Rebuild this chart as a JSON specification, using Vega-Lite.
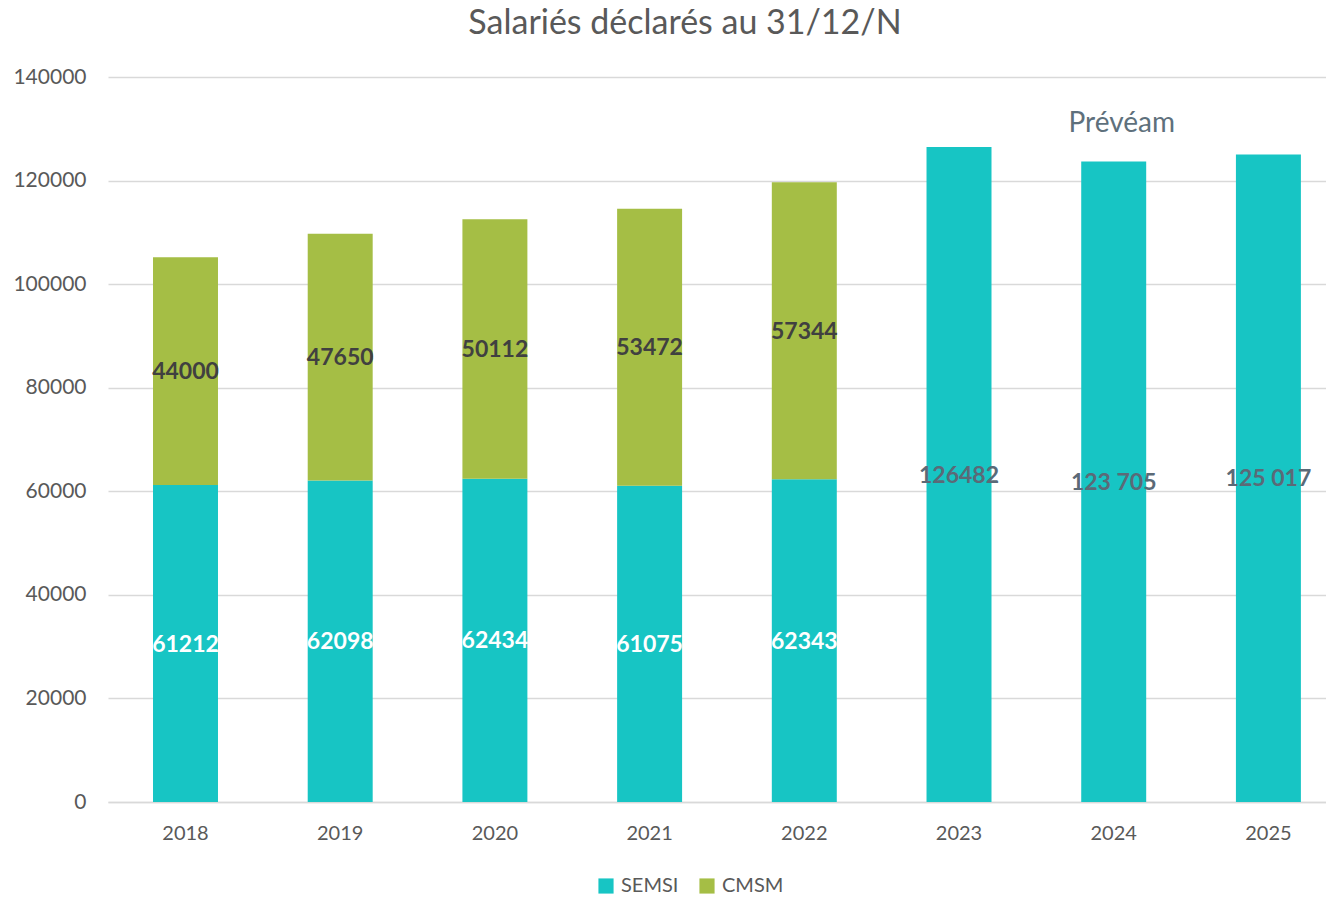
{
  "$schema": "https://vega.github.io/schema/vega-lite/v6.json",
  "width": 1218,
  "height": 725,
  "autosize": {"type": "none"},
  "padding": {"left": 108, "top": 77, "right": 0, "bottom": 96},
  "background": "white",
  "title": {
    "text": "Salariés déclarés au 31/12/N",
    "font": "Lato",
    "fontSize": 34,
    "fontWeight": "normal",
    "color": "#595959",
    "baseline": "alphabetic",
    "anchor": "middle",
    "offset": -2,
    "dx": -32
  },
  "config": {
    "view": {"stroke": null},
    "font": "Lato"
  },
  "datasets": {
    "main": [
      {"year": "2018", "series": "SEMSI", "value": 61212, "label": "61212"},
      {"year": "2018", "series": "CMSM", "value": 44000, "label": "44000"},
      {"year": "2019", "series": "SEMSI", "value": 62098, "label": "62098"},
      {"year": "2019", "series": "CMSM", "value": 47650, "label": "47650"},
      {"year": "2020", "series": "SEMSI", "value": 62434, "label": "62434"},
      {"year": "2020", "series": "CMSM", "value": 50112, "label": "50112"},
      {"year": "2021", "series": "SEMSI", "value": 61075, "label": "61075"},
      {"year": "2021", "series": "CMSM", "value": 53472, "label": "53472"},
      {"year": "2022", "series": "SEMSI", "value": 62343, "label": "62343"},
      {"year": "2022", "series": "CMSM", "value": 57344, "label": "57344"},
      {"year": "2023", "series": "SEMSI", "value": 126482, "label": "126482"},
      {"year": "2024", "series": "SEMSI", "value": 123705, "label": "123 705"},
      {"year": "2025", "series": "SEMSI", "value": 125017, "label": "125 017"}
    ],
    "note": [
      {"year": "2024", "value": 130900, "label": "Prévéam"}
    ]
  },
  "layer": [
    {
      "data": {"name": "main"},
      "transform": [
        {"stack": "value", "groupby": ["year"], "sort": [{"field": "series", "order": "descending"}], "as": ["v0", "v1"]}
      ],
      "mark": {"type": "bar"},
      "encoding": {
        "x": {
          "field": "year", "type": "ordinal",
          "scale": {"paddingInner": 0.58, "paddingOuter": 0.2266, "align": 0.642},
          "axis": {
            "title": null, "labelAngle": 0, "labelFontSize": 20, "labelColor": "#595959",
            "labelFont": "Lato", "ticks": false, "domainColor": "#D9D9D9", "domainWidth": 1.5,
            "labelPadding": 21
          }
        },
        "y": {
          "field": "v1", "type": "quantitative",
          "scale": {"domain": [0, 140000], "nice": false},
          "axis": {
            "title": null, "values": [0, 20000, 40000, 60000, 80000, 100000, 120000, 140000],
            "format": "d", "labelFontSize": 21, "labelColor": "#595959", "labelFont": "Lato",
            "ticks": false, "domain": false, "gridColor": "#D9D9D9", "gridWidth": 1.5,
            "labelPadding": 22
          }
        },
        "y2": {"field": "v0"},
        "color": {
          "field": "series", "type": "nominal",
          "scale": {"domain": ["SEMSI", "CMSM"], "range": ["#17C5C4", "#A5BE45"]},
          "legend": {
            "title": null, "orient": "none", "legendX": 488, "legendY": 799,
            "direction": "horizontal", "symbolType": "square", "symbolSize": 230,
            "symbolStrokeWidth": 0, "labelFontSize": 20, "labelColor": "#595959",
            "labelFont": "Lato", "columnPadding": 18, "labelOffset": 5
          }
        }
      }
    },
    {
      "data": {"name": "main"},
      "transform": [
        {"stack": "value", "groupby": ["year"], "sort": [{"field": "series", "order": "descending"}], "as": ["v0", "v1"]},
        {"calculate": "(datum.v0 + datum.v1) / 2", "as": "mid"}
      ],
      "mark": {"type": "text", "font": "Lato", "fontWeight": "bold", "fontSize": 23, "baseline": "middle", "align": "center", "dy": 1},
      "encoding": {
        "x": {"field": "year", "type": "ordinal"},
        "y": {"field": "mid", "type": "quantitative"},
        "text": {"field": "label"},
        "color": {
          "condition": [
            {"test": "toNumber(datum.year) >= 2023", "value": "#5B6A77"},
            {"test": "datum.series === 'CMSM'", "value": "#404040"}
          ],
          "value": "white"
        }
      }
    },
    {
      "data": {"name": "note"},
      "mark": {"type": "text", "font": "Lato", "fontSize": 28, "color": "#5E707C", "baseline": "middle", "align": "center", "dx": 8},
      "encoding": {
        "x": {"field": "year", "type": "ordinal"},
        "y": {"field": "value", "type": "quantitative"},
        "text": {"field": "label"}
      }
    }
  ]
}
